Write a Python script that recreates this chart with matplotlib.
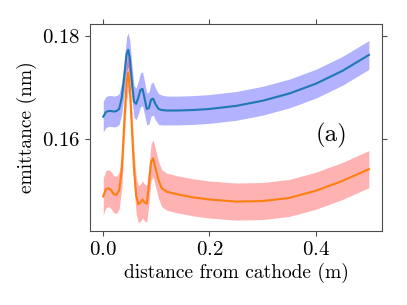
import matplotlib
matplotlib.use("Agg")
import matplotlib.pyplot as plt

plt.rcParams['font.family'] = 'serif'
plt.rcParams['font.serif'] = ['cmr10']
plt.rcParams['mathtext.fontset'] = 'cm'
plt.rcParams['axes.formatter.use_mathtext'] = True

# distance from cathode (m)
dist = [0, 0.005, 0.01, 0.015, 0.02, 0.025, 0.03, 0.035, 0.04, 0.044, 0.047,
        0.05, 0.054, 0.058, 0.062, 0.066, 0.07, 0.074, 0.078, 0.082, 0.086,
        0.09, 0.094, 0.098, 0.104, 0.11, 0.12, 0.14, 0.17, 0.2, 0.25, 0.3,
        0.35, 0.4, 0.45, 0.5]

# emittance (nm), upper curve
emit_a = [0.1643, 0.1652, 0.1654, 0.1654, 0.1653, 0.1654, 0.1658, 0.1680,
          0.1725, 0.1765, 0.1773, 0.1758, 0.1710, 0.1672, 0.1668, 0.1680,
          0.1695, 0.1697, 0.1678, 0.1658, 0.1660, 0.1676, 0.1678, 0.1668,
          0.1658, 0.1656, 0.1655, 0.1655, 0.1656, 0.1658, 0.1664, 0.1674,
          0.1688, 0.1707, 0.1732, 0.1763]
err_a = [0.0030, 0.0030, 0.0030, 0.0030, 0.0030, 0.0030, 0.0030, 0.0031,
         0.0032, 0.0033, 0.0033, 0.0033, 0.0032, 0.0031, 0.0031, 0.0032,
         0.0033, 0.0033, 0.0032, 0.0031, 0.0031, 0.0032, 0.0032, 0.0031,
         0.0030, 0.0029, 0.0028, 0.0028, 0.0028, 0.0028, 0.0028, 0.0028,
         0.0028, 0.0028, 0.0028, 0.0028]

# emittance (nm), lower curve
emit_b = [0.1488, 0.1502, 0.1504, 0.1500, 0.1492, 0.1491, 0.1500, 0.1540,
          0.1640, 0.1710, 0.1729, 0.1700, 0.1620, 0.1540, 0.1490, 0.1473,
          0.1476, 0.1482, 0.1476, 0.1474, 0.1510, 0.1555, 0.1562, 0.1545,
          0.1520, 0.1504, 0.1497, 0.1492, 0.1486, 0.1482, 0.1478, 0.1479,
          0.1485, 0.1499, 0.1518, 0.1541]
err_b = [0.0036, 0.0036, 0.0036, 0.0036, 0.0036, 0.0036, 0.0036, 0.0036,
         0.0036, 0.0036, 0.0036, 0.0036, 0.0036, 0.0036, 0.0036, 0.0036,
         0.0036, 0.0036, 0.0036, 0.0036, 0.0036, 0.0036, 0.0036, 0.0036,
         0.0036, 0.0036, 0.0036, 0.0036, 0.0036, 0.0036, 0.0036, 0.0036,
         0.0036, 0.0036, 0.0036, 0.0036]

fig = plt.figure(figsize=(4.07, 3.05), dpi=100)
ax = fig.add_axes([0.221, 0.243, 0.718, 0.678])

lo_a = [m - e for m, e in zip(emit_a, err_a)]
hi_a = [m + e for m, e in zip(emit_a, err_a)]
lo_b = [m - e for m, e in zip(emit_b, err_b)]
hi_b = [m + e for m, e in zip(emit_b, err_b)]

ax.fill_between(dist, lo_a, hi_a, color='blue', alpha=0.3, lw=0)
ax.fill_between(dist, lo_b, hi_b, color='red', alpha=0.3, lw=0)
ax.plot(dist, emit_a, color='#1f77b4', lw=1.5)
ax.plot(dist, emit_b, color='#ff7f0e', lw=1.5)

ax.set_xticks([0.0, 0.2, 0.4])
ax.set_yticks([0.16, 0.18])
ax.set_ylim(0.1421, 0.1823)
ax.tick_params(labelsize=15, top=True, right=True, direction='out', color='0.3')
for sp in ax.spines.values():
    sp.set_color('0.3')

ax.set_xlabel('distance from cathode (m)', fontsize=14, labelpad=3)
ax.set_ylabel('emittance (nm)', fontsize=14)
ax.text(0.825, 0.46, '(a)', transform=ax.transAxes, fontsize=18,
        ha='center', va='center')

fig.savefig('out.png')
